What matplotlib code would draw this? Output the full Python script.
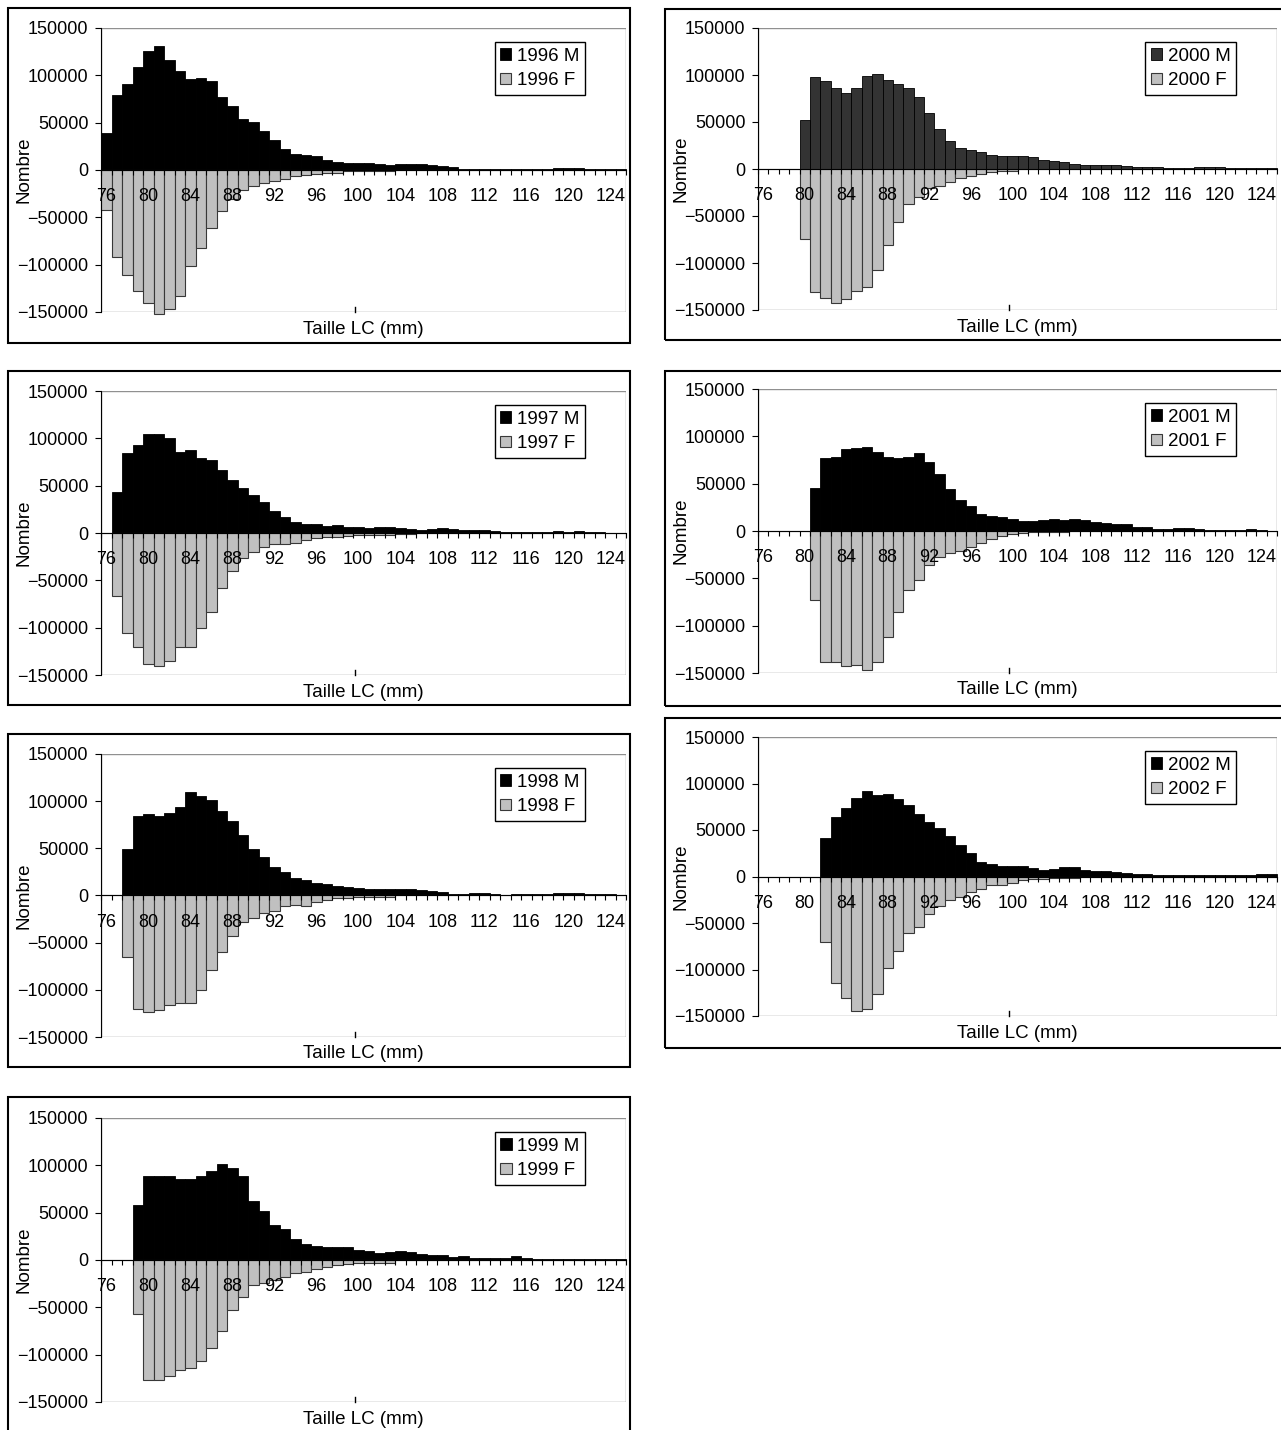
import numpy as np
import matplotlib
matplotlib.use("Agg")
import matplotlib.pyplot as plt
from matplotlib.patches import Rectangle

plt.rcParams['font.family'] = ['Liberation Sans', 'DejaVu Sans']
plt.rcParams['font.size'] = 13

# carapace length classes (mm)
sizes = list(range(76, 126))

#             76-85 / 86-95 / 96-105 / 106-115 / 116-125
m1996 = [39000, 79500, 90500, 109000, 126000, 131000, 116000, 104500, 96500, 97500,
         94000, 77500, 67500, 54000, 50500, 41500, 31500, 22000, 17000, 16000,
         15000, 11000, 8500, 7000, 7000, 7000, 6500, 5000, 6000, 6000,
         6000, 5000, 4000, 3000, 1000, 1000, 1000, 1000, 1000, 1000,
         1000, 1000, 1000, 1800, 1800, 1800, 1000, 1000, 1000, 1000]
f1996 = [42600, 92000, 110500, 128000, 141000, 152000, 147000, 133000, 101000, 82500,
         61500, 43500, 30500, 21000, 17000, 13500, 12000, 10000, 6000, 5000,
         4200, 3500, 3000, 1000, 1000, 1500, 1500, 1000, 500, 0,
         0, 0, 0, 0, 0, 0, 0, 0, 0, 0,
         0, 0, 0, 0, 0, 0, 0, 0, 0, 0]

m1997 = [0, 43600, 84500, 93300, 105000, 105000, 100000, 86000, 87500, 79000,
         77500, 66500, 56300, 48000, 39800, 32700, 22900, 17000, 12000, 9200,
         9200, 7700, 8500, 6300, 6300, 5600, 6700, 6700, 5300, 4200,
         3500, 4200, 5300, 4600, 3500, 3200, 3200, 2500, 1400, 1400,
         700, 1400, 1400, 2500, 1400, 2500, 1400, 1400, 0, 0]
f1997 = [0, 66500, 106000, 120700, 138000, 140500, 135500, 120700, 120700, 100000,
         83400, 57700, 40500, 26800, 19700, 14800, 11300, 11300, 10200, 7700,
         5300, 4200, 4200, 3200, 2500, 2500, 1800, 1800, 700, 700,
         0, 0, 0, 0, 0, 0, 0, 0, 0, 0,
         0, 0, 0, 0, 0, 0, 0, 0, 0, 0]

m1998 = [0, 0, 49700, 84500, 86600, 84500, 87300, 93700, 109300, 105000,
         101500, 89500, 78500, 64300, 49700, 40800, 29800, 24800, 18800, 16000,
         12800, 11700, 10300, 9200, 7500, 6700, 6700, 6700, 6700, 6700,
         6000, 5000, 3500, 1800, 1800, 2800, 2800, 1800, 400, 1800,
         1800, 1800, 1800, 2800, 2800, 2800, 1800, 1800, 1800, 1000]
f1998 = [0, 0, 65300, 120000, 123500, 121800, 116400, 114300, 114300, 100500,
         79500, 59600, 42600, 28400, 23800, 18800, 16300, 11400, 9600, 11000,
         6400, 5300, 2500, 2500, 1800, 1800, 1800, 1800, 0, 0,
         0, 0, 0, 0, 0, 0, 0, 0, 0, 0,
         0, 0, 0, 0, 0, 0, 0, 0, 0, 0]

m1999 = [0, 0, 0, 58000, 88700, 88700, 88700, 85200, 85200, 88700,
         94000, 101700, 96800, 88700, 62000, 51700, 37300, 32400, 22200, 16500,
         14800, 14100, 13400, 13400, 10600, 9900, 7700, 8800, 9900, 8800,
         6300, 4900, 4900, 3200, 3900, 1800, 1800, 2500, 2500, 3900,
         2500, 1000, 1000, 1000, 1000, 1000, 1000, 1000, 1000, 1000]
f1999 = [0, 0, 0, 57400, 126400, 126400, 122100, 116500, 114000, 106700,
         92900, 74600, 52800, 39100, 26400, 23900, 20800, 18000, 13700, 12300,
         9500, 7400, 4900, 4200, 3500, 3200, 3200, 3200, 500, 0,
         0, 0, 0, 0, 0, 0, 0, 0, 0, 0,
         0, 0, 0, 0, 0, 0, 0, 0, 0, 0]

m2000 = [0, 0, 0, 0, 52400, 97700, 93800, 86000, 80700, 86000,
         98800, 100900, 94900, 90600, 85700, 76100, 59100, 42100, 30100, 22300,
         20200, 18000, 15200, 13800, 13500, 13500, 12400, 9600, 8500, 7400,
         5700, 4600, 3900, 4600, 4600, 3500, 2500, 2500, 2500, 1400,
         1400, 1400, 2500, 2500, 2500, 1400, 1400, 1400, 1400, 1400]
f2000 = [0, 0, 0, 0, 74300, 131300, 137000, 142300, 138000, 129500,
         125000, 107300, 80400, 56600, 36800, 29700, 20200, 18400, 14200, 9600,
         7100, 5000, 3200, 2500, 1800, 0, 0, 0, 0, 0,
         0, 0, 0, 0, 0, 0, 0, 0, 0, 0,
         0, 0, 0, 0, 0, 0, 0, 0, 0, 0]

m2001 = [0, 0, 0, 0, 0, 45200, 76600, 78400, 86100, 87500,
         88600, 83700, 77700, 76600, 78400, 82600, 73400, 59700, 44800, 32800,
         26800, 18000, 15900, 14500, 13100, 10900, 10900, 12000, 13100, 12000,
         13100, 12000, 9900, 8100, 7100, 7100, 4600, 4600, 2500, 2500,
         3200, 3200, 2100, 1000, 1000, 1000, 1000, 2100, 1000, 0]
f2001 = [0, 0, 0, 0, 0, 72700, 138000, 138000, 142600, 141600,
         146900, 138400, 111900, 85100, 62500, 51500, 36400, 27500, 22900, 20800,
         17300, 13100, 8800, 4900, 2800, 1800, 1000, 1000, 1000, 1000,
         0, 0, 0, 0, 0, 0, 0, 0, 0, 0,
         0, 0, 0, 0, 0, 0, 0, 0, 0, 0]

m2002 = [0, 0, 0, 0, 0, 0, 41300, 63900, 74000, 84700,
         91900, 87200, 88700, 82900, 76800, 67500, 58900, 51700, 43800, 33700,
         25500, 15400, 13300, 11500, 11500, 11500, 9300, 6500, 8300, 10000,
         10000, 7500, 5400, 6100, 5000, 3900, 2900, 2500, 1800, 1800,
         1100, 1100, 1100, 1800, 1800, 1100, 1100, 1100, 2200, 2200]
f2002 = [0, 0, 0, 0, 0, 0, 70000, 114900, 130300, 145000,
         142200, 126000, 98000, 79700, 60300, 53800, 40600, 31200, 25100, 21900,
         16900, 13600, 9300, 9300, 6500, 4300, 3200, 2200, 1400, 1400,
         1100, 0, 0, 0, 0, 0, 0, 0, 0, 0,
         0, 0, 0, 0, 0, 0, 0, 0, 0, 0]

W, H = 1281, 1430
fig = plt.figure(figsize=(W / 100, H / 100), dpi=100)


def fig_rect(x0, y0, x1, y1):
    # pixel box (top-left origin) -> figure fraction [left, bottom, width, height]
    return [x0 / W, 1 - y1 / H, (x1 - x0) / W, (y1 - y0) / H]


def panel(year, males, females, mcolor, box, plot):
    bx = fig_rect(*box)
    fig.add_artist(Rectangle((bx[0], bx[1]), bx[2], bx[3], transform=fig.transFigure,
                             fill=False, edgecolor='black', lw=1.5))
    ax = fig.add_axes(fig_rect(*plot))
    pw, ph = plot[2] - plot[0], plot[3] - plot[1]

    x = np.arange(len(sizes))
    ax.bar(x, males, width=1.0, color=mcolor, edgecolor='black', lw=0.6,
           label=year + ' M', zorder=2, clip_on=False)
    ax.bar(x, -np.array(females), width=1.0, color='#c0c0c0', edgecolor='#383838',
           lw=0.8, label=year + ' F', zorder=2, clip_on=False)

    ax.set_xlim(-0.5, len(sizes) - 0.5)
    ax.set_ylim(-150000, 150000)
    ax.set_yticks(np.arange(-150000, 150001, 50000))
    ax.set_xticks(x[::4])
    ax.set_xticklabels([str(s) for s in sizes[::4]])
    ax.set_xticks(np.arange(len(sizes) + 1) - 0.5, minor=True)
    ax.tick_params(axis='x', which='major', length=0, pad=13)
    ax.tick_params(axis='x', which='minor', length=3.5, width=0.8, direction='out')
    ax.tick_params(axis='y', length=4, width=0.8, direction='out', pad=5)
    ax.set_axisbelow(False)

    ax.spines['bottom'].set_position(('data', 0))
    ax.spines['top'].set_visible(False)
    ax.spines['right'].set_visible(False)
    ax.add_patch(Rectangle((0, 0), 1, 1, transform=ax.transAxes, fill=False,
                           edgecolor='#909090', lw=1, zorder=1.8))
    ax.plot([0.484, 0.484], [0, 5 / ph], transform=ax.transAxes, color='black',
            lw=1, clip_on=False)

    ax.text(-77 / pw, 0.5, 'Nombre', rotation=90, ha='center', va='center',
            transform=ax.transAxes, fontsize=13.5)
    ax.text(0.5, -17 / ph, 'Taille LC (mm)', ha='center', va='center',
            transform=ax.transAxes, fontsize=13.5)

    leg = ax.legend(loc='upper right', bbox_to_anchor=(1 - 41 / pw, 1 - 14 / ph),
                    borderaxespad=0, handlelength=0.6, handleheight=0.6,
                    handletextpad=0.3, borderpad=0.3, labelspacing=0.4,
                    fancybox=False, framealpha=1, edgecolor='black', fontsize=13.5)
    leg.get_frame().set_linewidth(1)
    return ax


panel('1996', m1996, f1996, 'black', (8, 8, 630, 343), (101, 28, 626, 312))
panel('1997', m1997, f1997, 'black', (8, 371, 630, 705), (101, 391, 626, 675))
panel('1998', m1998, f1998, 'black', (8, 734, 630, 1067), (101, 754, 626, 1037))
panel('1999', m1999, f1999, 'black', (8, 1097, 630, 1445), (101, 1118, 626, 1402))
panel('2000', m2000, f2000, '#333333', (665, 9, 1295, 340), (758, 28, 1277, 310))
panel('2001', m2001, f2001, 'black', (665, 371, 1295, 706), (758, 389, 1277, 673))
panel('2002', m2002, f2002, 'black', (665, 718, 1295, 1048), (758, 737, 1277, 1016))

fig.savefig('out.png', dpi=100)
